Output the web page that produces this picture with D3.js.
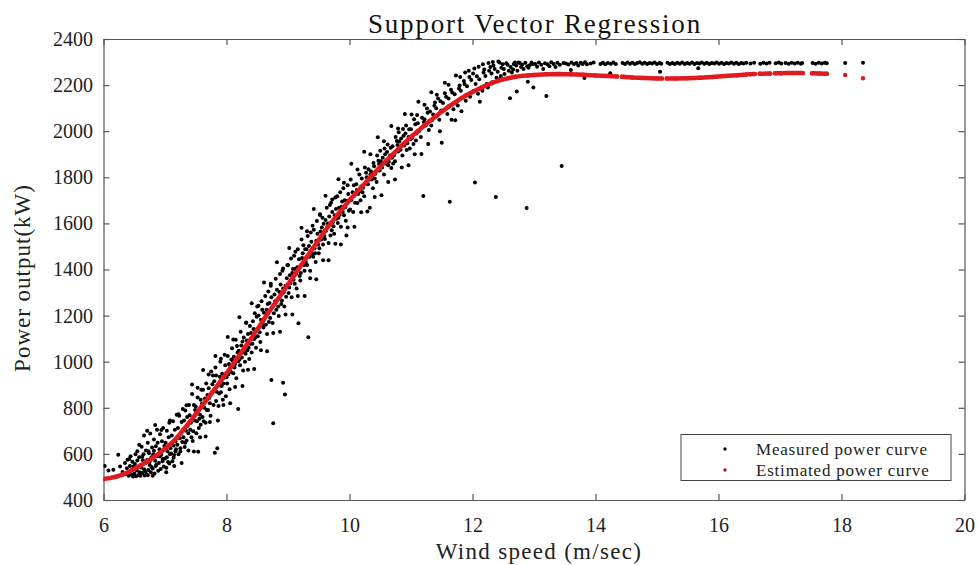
<!DOCTYPE html>
<html>
<head>
<meta charset="utf-8">
<script src="https://cdn.jsdelivr.net/npm/d3@7"></script>
<style>
  html, body { margin: 0; padding: 0; background: #fff; }
  svg { display: block; }
</style>
</head>
<body>
<svg id="chart" width="977" height="565"></svg>
<script>
// ---- Data -------------------------------------------------------------
const titleText = "Support Vector Regression";
const xLabelText = "Wind speed (m/sec)";
const yLabelText = "Power output(kW)";
const legendLabels = ["Measured power curve", "Estimated power curve"];

const xTicks = [6, 8, 10, 12, 14, 16, 18, 20];
const yTicks = [400, 600, 800, 1000, 1200, 1400, 1600, 1800, 2000, 2200, 2400];

// Measured power curve: [wind speed (m/s), power (kW)]
const measured = [
  [6.02,548],[6.08,528],[6.16,531],[6.24,596],[6.27,545],[6.31,522],[6.35,560],[6.36,512],[6.38,538],[6.39,575],
  [6.41,505],[6.42,520],[6.43,548],[6.44,590],[6.45,512],[6.46,531],[6.47,566],[6.48,502],[6.49,545],[6.42,578],
  [6.50,515],[6.51,556],[6.52,598],[6.53,503],[6.54,528],[6.55,571],[6.56,541],[6.57,508],[6.58,585],[6.59,520],[6.55,612],[6.52,535],
  [6.60,505],[6.61,549],[6.62,631],[6.63,517],[6.64,572],[6.65,598],[6.66,533],[6.67,506],[6.68,560],[6.69,615],[6.63,588],[6.66,680],[6.68,525],[6.61,541],
  [6.70,512],[6.71,574],[6.72,648],[6.73,530],[6.74,603],[6.75,552],[6.76,689],[6.77,520],[6.78,585],[6.79,628],[6.72,507],[6.75,566],[6.78,543],[6.73,611],
  [6.80,537],[6.81,598],[6.82,662],[6.83,515],[6.84,570],[6.85,633],[6.86,553],[6.87,705],[6.88,590],[6.89,527],[6.82,614],[6.85,548],[6.88,648],[6.84,725],
  [6.90,560],[6.91,620],[6.92,685],[6.93,534],[6.94,596],[6.95,655],[6.96,578],[6.97,712],[6.98,545],[6.99,634],[6.93,602],[6.96,568],[6.91,590],
  [7.00,580],[7.01,648],[7.02,540],[7.03,700],[7.04,612],[7.05,565],[7.06,672],[7.07,735],[7.08,598],[7.09,625],[7.03,585],[7.07,558],
  [7.10,602],[7.11,680],[7.12,568],[7.13,742],[7.14,636],[7.15,595],[7.16,705],[7.17,655],[7.18,620],[7.19,770],[7.14,583],[7.17,612],
  [7.20,640],[7.21,712],[7.22,598],[7.23,765],[7.24,668],[7.25,625],[7.26,690],[7.27,738],[7.28,652],[7.29,795],[7.25,610],
  [7.30,672],[7.31,745],[7.32,630],[7.33,788],[7.34,700],[7.35,658],[7.36,760],[7.37,722],[7.38,690],[7.39,812],[7.33,648],
  [7.41,705],[7.47,812],[7.43,672],[7.40,768],[7.48,745],[7.44,860],[7.46,698],[7.42,735],[7.49,790],[7.45,656],
  [7.52,742],[7.58,835],[7.50,806],[7.55,712],[7.54,609],[7.57,770],[7.51,690],[7.59,878],[7.53,845],[7.56,752],[7.58,726],
  [7.64,800],[7.61,760],[7.69,855],[7.62,878],[7.66,735],[7.60,818],[7.67,905],[7.63,742],[7.68,790],[7.65,840],
  [7.73,820],[7.78,940],[7.70,790],[7.76,868],[7.71,885],[7.79,812],[7.74,765],[7.77,902],[7.72,842],[7.75,958],
  [7.86,895],[7.81,605],[7.83,830],[7.89,935],[7.80,915],[7.85,624],[7.88,862],[7.82,975],[7.87,808],[7.84,870],[7.83,940],
  [7.95,905],[7.91,868],[7.98,985],[7.93,948],[7.99,850],[7.90,1000],[7.96,930],[7.92,895],[7.97,1030],[7.94,835],
  [8.03,945],[8.08,1010],[8.01,905],[8.06,978],[8.09,1058],[8.02,1025],[8.05,880],[8.07,955],[8.04,990],[8.00,932],
  [8.14,990],[8.11,950],[8.17,1068],[8.12,1022],[8.19,795],[8.16,928],[8.10,1005],[8.18,1040],[8.13,975],[8.15,1095],[8.19,1002],
  [8.25,1018],[8.22,985],[8.28,1105],[8.20,1048],[8.27,962],[8.23,1130],[8.29,1040],[8.24,1070],[8.21,1010],[8.26,1088],
  [8.36,1060],[8.31,1035],[8.38,1155],[8.33,1092],[8.30,1000],[8.35,1120],[8.39,1078],[8.32,1168],[8.37,1012],[8.34,1050],
  [8.47,1105],[8.42,1078],[8.49,1195],[8.44,1142],[8.41,1040],[8.46,1210],[8.40,1125],[8.48,1060],[8.43,1175],[8.45,1098],
  [8.53,1148],[8.58,1225],[8.51,1110],[8.56,1182],[8.50,1240],[8.55,1085],[8.59,1160],[8.52,1200],[8.57,1262],[8.54,1128],
  [8.62,1190],[8.67,1250],[8.60,1148],[8.65,1225],[8.69,1172],[8.63,1285],[8.66,1120],[8.61,1212],[8.68,1305],[8.64,1160],
  [8.74,1235],[8.71,1190],[8.73,921],[8.78,1292],[8.70,1255],[8.76,733],[8.77,1210],[8.72,1330],[8.79,1262],[8.75,1168],[8.73,1280],
  [8.83,1270],[8.88,1335],[8.81,1225],[8.86,1302],[8.80,1360],[8.85,1198],[8.89,1250],[8.82,1312],[8.87,1380],[8.84,1240],
  [8.92,909],[8.95,858],[8.93,1300],[8.98,1362],[8.90,1265],[8.96,1330],[8.91,1395],[8.97,1282],[8.94,1240],[8.99,1418],[8.92,1318],
  [9.04,1340],[9.01,1298],[9.08,1402],[9.03,1375],[9.06,1280],[9.00,1420],[9.09,1355],[9.05,1448],[9.02,1322],[9.07,1385],
  [9.13,1380],[9.18,1445],[9.11,1338],[9.17,1167],[9.15,1410],[9.10,1460],[9.19,1372],[9.14,1318],[9.16,1488],[9.12,1402],
  [9.26,1420],[9.21,1385],[9.28,1488],[9.23,1450],[9.20,1352],[9.25,1505],[9.29,1432],[9.22,1530],[9.27,1395],[9.24,1470],
  [9.35,1455],[9.31,1420],[9.33,1106],[9.38,1520],[9.30,1488],[9.36,1395],[9.32,1545],[9.39,1468],[9.34,1502],[9.37,1560],
  [9.43,1492],[9.48,1555],[9.41,1455],[9.46,1525],[9.40,1590],[9.45,1432],[9.49,1508],[9.42,1572],[9.47,1610],[9.44,1470],
  [9.54,1530],[9.51,1492],[9.58,1598],[9.53,1565],[9.50,1470],[9.56,1625],[9.59,1545],[9.52,1640],[9.57,1508],[9.55,1582],
  [9.62,1568],[9.67,1630],[9.60,1532],[9.65,1600],[9.69,1548],[9.63,1668],[9.66,1515],[9.61,1615],[9.68,1680],[9.64,1585],
  [9.73,1605],[9.78,1662],[9.71,1570],[9.76,1635],[9.70,1690],[9.75,1555],[9.79,1620],[9.72,1650],[9.77,1712],[9.74,1588],
  [9.84,1638],[9.81,1602],[9.88,1695],[9.83,1668],[9.86,1585],[9.80,1718],[9.89,1650],[9.85,1735],[9.82,1625],[9.87,1672],
  [9.93,1670],[9.98,1728],[9.91,1635],[9.95,1547],[9.96,1698],[9.90,1752],[9.99,1655],[9.94,1612],[9.97,1765],[9.92,1700],
  [10.03,1702],[10.07,1765],[10.01,1660],[10.05,1735],[10.09,1690],[10.02,1790],[10.06,1650],[10.08,1720],
  [10.14,1728],[10.11,1770],[10.18,1700],[10.12,1745],[10.16,1812],[10.19,1760],[10.13,1688],[10.17,1738],
  [10.22,1755],[10.27,1820],[10.24,1718],[10.20,1795],[10.29,1772],[10.25,1842],[10.21,1735],[10.28,1800],
  [10.33,1668],[10.36,1790],[10.31,1835],[10.38,1752],[10.34,1812],[10.30,1770],[10.39,1862],[10.35,1825],
  [10.42,1815],[10.47,1872],[10.44,1780],[10.40,1848],[10.49,1830],[10.45,1895],[10.41,1795],[10.48,1858],
  [10.53,1842],[10.58,1900],[10.51,1870],[10.56,1812],[10.50,1915],[10.59,1860],[10.54,1885],[10.57,1925],
  [10.64,1868],[10.61,1910],[10.68,1840],[10.66,1895],[10.62,1942],[10.69,1885],[10.63,1852],[10.67,1928],
  [10.72,1895],[10.77,1958],[10.74,1870],[10.70,1935],[10.79,1912],[10.75,1975],[10.71,1860],[10.78,1940],
  [10.83,1920],[10.88,1980],[10.81,1955],[10.86,1895],[10.80,1995],[10.89,1938],[10.84,1968],[10.87,2010],
  [10.94,1948],[10.91,1990],[10.98,1925],[10.96,1975],[10.92,2025],[10.99,1965],[10.93,1918],[10.97,2008],
  [11.02,1972],[11.07,2030],[11.04,1945],[11.00,2008],[11.09,1990],[11.05,2052],[11.08,1960],
  [11.13,2000],[11.18,2058],[11.11,2035],[11.17,1901],[11.16,1975],[11.10,2070],[11.19,2018],
  [11.20,1719],[11.24,2025],[11.27,2080],[11.22,2052],[11.29,2005],[11.26,2098],[11.21,2040],
  [11.34,2048],[11.31,2085],[11.38,2110],[11.33,2025],[11.36,2072],[11.39,2125],
  [11.43,2068],[11.48,2130],[11.41,2100],[11.46,2050],[11.49,2090],[11.44,2142],
  [11.50,1950],[11.53,2090],[11.57,2150],[11.52,2122],[11.59,2075],[11.55,2165],
  [11.63,1694],[11.62,2110],[11.67,2168],[11.61,2142],[11.69,2095],[11.65,2180],
  [11.72,2048],[11.74,2128],[11.78,2185],[11.71,2160],[11.76,2112],[11.79,2198],
  [11.82,2087],[11.84,2145],[11.87,2205],[11.81,2175],[11.89,2132],[11.86,2218],
  [11.93,2160],[11.98,2222],[11.91,2195],[11.96,2150],[11.95,2235],
  [12.04,1777],[12.02,2175],[12.07,2238],[12.05,2205],[12.09,2162],[12.01,2250],
  [12.12,2128],[12.14,2190],[12.18,2255],[12.11,2225],[12.16,2175],[12.19,2268],
  [12.23,2205],[12.27,2262],[12.21,2240],[12.25,2190],[12.29,2278],
  [12.38,1715],[12.32,2212],[12.36,2270],[12.31,2250],[12.34,2285],[12.39,2232],
  [12.42,2302],[12.44,2225],[12.47,2275],[12.41,2258],[12.49,2290],[12.46,2240],
  [12.52,2248],[12.57,2288],[12.51,2270],[12.55,2295],[12.59,2262],
  [12.61,2143],[12.64,2255],[12.67,2292],[12.62,2278],[12.69,2298],[12.66,2268],
  [12.72,2172],[12.73,2262],[12.77,2296],[12.71,2285],[12.79,2278],[12.75,2298],
  [12.88,1667],[12.83,2270],[12.86,2297],[12.81,2288],[12.89,2282],
  [12.90,2215],[12.99,2190],[12.93,2286],[12.96,2298],[12.91,2275],[12.98,2292],
  [13.02,2292],[13.05,2280],[13.08,2298],[13.12,2288],[13.15,2270],[13.18,2295],[13.20,2153],[13.22,2290],
  [13.25,2282],[13.28,2299],[13.32,2292],[13.35,2278],[13.38,2297],[13.42,2288],[13.45,1849],[13.48,2296],
  [13.52,2294],[13.56,2289],[13.60,2265],[13.61,2298],[13.65,2291],[13.69,2296],[13.72,2285],[13.76,2297],
  [13.79,2292],[13.82,2231],[13.83,2299],[13.86,2290],[13.92,2294],[13.97,2298],[14.08,2292],[14.12,2297],
  [14.16,2290],[14.20,2296],[14.24,2251],[14.25,2293],[14.29,2298],[14.33,2291],[14.44,2296],[14.48,2292],
  [14.52,2298],[14.56,2293],[14.60,2297],[14.64,2291],[14.68,2296],[14.72,2299],[14.76,2293],[14.80,2297],
  [14.84,2292],[14.88,2296],[14.92,2294],[14.96,2298],[15.00,2292],[15.04,2296],[15.05,2258],[15.07,2293],
  [15.17,2297],[15.21,2292],[15.25,2296],[15.29,2291],[15.33,2297],[15.37,2293],[15.41,2298],[15.45,2292],
  [15.49,2296],[15.53,2293],[15.57,2298],[15.61,2292],[15.65,2296],[15.67,2273],[15.69,2294],[15.73,2298],
  [15.77,2293],[15.81,2297],[15.85,2292],[15.89,2296],[15.93,2294],[15.97,2298],[16.01,2293],[16.05,2297],
  [16.09,2292],[16.13,2296],[16.17,2294],[16.21,2298],[16.25,2293],[16.29,2297],[16.33,2292],[16.37,2296],
  [16.41,2294],[16.45,2297],[16.52,2294],[16.58,2297],[16.68,2293],[16.73,2297],[16.78,2294],[16.83,2297],
  [16.93,2295],[16.98,2298],[17.02,2294],[17.09,2296],[17.14,2293],[17.19,2297],[17.24,2294],[17.29,2297],
  [17.34,2293],[17.36,2296],[17.53,2296],[17.58,2293],[17.63,2297],[17.68,2294],[17.73,2297],[17.76,2295],
  [18.06,2296],[18.35,2297],
  // upper edge of the scatter band
  [6.58,640],[6.71,700],[6.94,704],[7.08,745],[7.22,772],[7.35,811],[7.44,901],[7.53,887],[7.62,964],[7.71,945],
  [7.82,1025],[7.91,1013],[8.02,1107],[8.11,1096],[8.21,1193],[8.32,1170],[8.41,1254],[8.52,1243],[8.61,1344],[8.72,1338],
  [8.82,1431],[8.92,1404],[9.02,1493],[9.12,1477],[9.22,1581],[9.31,1566],[9.42,1663],[9.52,1636],[9.61,1720],[9.72,1704],
  [9.82,1792],[9.91,1776],[10.03,1859],[10.13,1834],[10.24,1911],[10.34,1900],[10.46,1974],[10.56,1956],[10.68,2023],[10.79,2012],
  [10.90,2075],[11.01,2072],[11.12,2128],[11.22,2115],[11.33,2169],[11.42,2158],[11.55,2210],[11.61,2201],[11.73,2242],[11.80,2235],
  [11.88,2255],[11.94,2262],[12.03,2272],[12.10,2280],[12.17,2290],[12.26,2296],[12.33,2300],[12.44,2298],
  // lower edge of the scatter band
  [6.80,505],[7.02,520],[7.15,548],[7.27,560],[7.38,615],[7.47,610],[7.57,672],[7.66,675],[7.73,738],[7.86,745],
  [7.95,812],[8.06,820],[8.14,890],[8.26,895],[8.35,965],[8.45,968],[8.56,1050],[8.66,1045],[8.76,1125],[8.87,1130],
  [8.96,1205],[9.07,1205],[9.16,1285],[9.27,1285],[9.36,1362],[9.46,1358],[9.57,1440],[9.66,1440],[9.77,1512],[9.86,1508],
  [9.97,1582],[10.08,1585],[10.19,1648],[10.29,1652],[10.41,1715],[10.52,1722],[10.63,1780],[10.74,1790],[10.85,1842],[10.96,1852],
  [11.06,1900],[11.28,1945],[11.47,2000],[11.66,2050]
];

// Estimated power curve (SVR output), listed as continuous runs of [wind, power]
const estimatedRuns = [
  [[6.0,491],[6.1,495],[6.2,501],[6.3,509],[6.4,520],[6.5,535],[6.6,550],[6.7,565],[6.8,582],[6.9,601],
   [7.0,622],[7.1,645],[7.2,672],[7.3,705],[7.4,738],[7.5,772],[7.6,807],[7.7,842],[7.8,878],[7.9,914],
   [8.0,950],[8.1,987],[8.2,1024],[8.3,1062],[8.4,1100],[8.5,1140],[8.6,1180],[8.7,1220],[8.8,1258],[8.9,1296],
   [9.0,1335],[9.1,1374],[9.2,1413],[9.3,1452],[9.4,1491],[9.5,1528],[9.6,1567],[9.7,1602],[9.8,1636],[9.9,1668],
   [10.0,1700],[10.1,1730],[10.2,1759],[10.3,1788],[10.4,1817],[10.5,1845],[10.6,1872],[10.7,1898],[10.8,1925],[10.9,1950],
   [11.0,1975],[11.1,1998],[11.2,2021],[11.3,2043],[11.4,2064],[11.5,2085],[11.6,2104],[11.7,2122],[11.8,2140],[11.9,2156],
   [12.0,2170],[12.1,2183],[12.2,2196],[12.3,2207],[12.4,2217],[12.5,2225],[12.6,2231],[12.7,2236],[12.8,2240],[12.9,2242],
   [13.0,2244],[13.2,2247],[13.4,2248],[13.6,2247],[13.8,2245],[14.0,2242],[14.2,2239],[14.35,2237]],
  [[14.43,2236],[14.6,2233],[14.8,2231],[15.0,2229],[15.08,2229]],
  [[15.16,2229],[15.3,2229],[15.5,2230],[15.7,2232],[15.9,2235],[16.1,2239],[16.3,2243],[16.46,2246]],
  [[16.51,2247],[16.59,2248]],
  [[16.67,2249],[16.84,2250]],
  [[16.92,2251],[17.03,2251]],
  [[17.08,2252],[17.2,2252],[17.37,2252]],
  [[17.52,2251],[17.64,2250],[17.76,2249]],
  [[18.06,2244]],
  [[18.35,2230]]
];

// ---- Layout & scales -----------------------------------------------------
const W = 977, H = 565;
const plot = { left: 103.5, right: 964.5, top: 39, bottom: 500 };
const FONT = "'Liberation Serif', 'Times New Roman', serif";
const AXIS_COLOR = "#555";
const RED = "#e01a1f";

const svg = d3.select("#chart");
svg.append("rect").attr("width", W).attr("height", H).attr("fill", "#fff");

const x = d3.scaleLinear().domain([6, 20]).range([plot.left, plot.right]);
const y = d3.scaleLinear().domain([400, 2400]).range([plot.bottom, plot.top]);

svg.append("defs").append("clipPath").attr("id", "plot-clip")
  .append("rect")
  .attr("x", plot.left).attr("y", plot.top)
  .attr("width", plot.right - plot.left).attr("height", plot.bottom - plot.top);

// ---- Axes (box with inward ticks) ---------------------------------------
function styleAxis(g) {
  g.attr("font-family", FONT);
  g.select(".domain").attr("stroke", AXIS_COLOR).attr("stroke-width", 1.2);
  g.selectAll(".tick line").attr("stroke", AXIS_COLOR).attr("stroke-width", 1.2);
  g.selectAll(".tick text").attr("fill", "#222").attr("font-size", 20);
}

svg.append("g")
  .attr("transform", `translate(0,${plot.bottom})`)
  .call(d3.axisBottom(x).tickValues(xTicks).tickFormat(d3.format("d"))
    .tickSize(-6).tickSizeOuter(0).tickPadding(18))
  .call(styleAxis);

svg.append("g")
  .attr("transform", `translate(0,${plot.top})`)
  .call(d3.axisTop(x).tickValues(xTicks).tickFormat("")
    .tickSize(-6).tickSizeOuter(0))
  .call(styleAxis);

svg.append("g")
  .attr("transform", `translate(${plot.left},0)`)
  .call(d3.axisLeft(y).tickValues(yTicks).tickFormat(d3.format("d"))
    .tickSize(-6).tickSizeOuter(0).tickPadding(10.5))
  .call(styleAxis);

svg.append("g")
  .attr("transform", `translate(${plot.right},0)`)
  .call(d3.axisRight(y).tickValues(yTicks).tickFormat("")
    .tickSize(-6).tickSizeOuter(0))
  .call(styleAxis);

// ---- Marks --------------------------------------------------------------
const marks = svg.append("g").attr("clip-path", "url(#plot-clip)");

marks.append("g")
  .selectAll("circle")
  .data(measured)
  .join("circle")
  .attr("cx", d => x(d[0]))
  .attr("cy", d => y(d[1]))
  .attr("r", 2.0)
  .attr("fill", "#000");

const estLine = d3.line().x(d => x(d[0])).y(d => y(d[1]));
const est = marks.append("g");
est.selectAll("path")
  .data(estimatedRuns.filter(r => r.length > 1))
  .join("path")
  .attr("d", estLine)
  .attr("fill", "none")
  .attr("stroke", RED)
  .attr("stroke-width", 4.5)
  .attr("stroke-linecap", "round")
  .attr("stroke-linejoin", "round");
est.selectAll("circle")
  .data(estimatedRuns.flat())
  .join("circle")
  .attr("cx", d => x(d[0]))
  .attr("cy", d => y(d[1]))
  .attr("r", 2.2)
  .attr("fill", RED);

// ---- Text ---------------------------------------------------------------
svg.append("text")
  .attr("x", 535).attr("y", 33)
  .attr("text-anchor", "middle")
  .attr("font-family", FONT).attr("font-size", 27)
  .attr("letter-spacing", 1.8)
  .attr("fill", "#111")
  .text(titleText);

svg.append("text")
  .attr("x", 539).attr("y", 559)
  .attr("text-anchor", "middle")
  .attr("font-family", FONT).attr("font-size", 23)
  .attr("letter-spacing", 1.3)
  .attr("fill", "#222")
  .text(xLabelText);

svg.append("text")
  .attr("transform", "translate(30,278) rotate(-90)")
  .attr("text-anchor", "middle")
  .attr("font-family", FONT).attr("font-size", 23)
  .attr("letter-spacing", 1)
  .attr("fill", "#222")
  .text(yLabelText);

// ---- Legend -------------------------------------------------------------
const legend = svg.append("g");
legend.append("rect")
  .attr("x", 681).attr("y", 434.5)
  .attr("width", 270).attr("height", 46)
  .attr("fill", "#fff").attr("stroke", "#444").attr("stroke-width", 1);

const legendColors = ["#000", "#b0141a"];
const rows = legend.selectAll("g.row")
  .data(legendLabels)
  .join("g")
  .attr("class", "row")
  .attr("transform", (d, i) => `translate(0,${449 + i * 21})`);
rows.append("circle")
  .attr("cx", 725).attr("cy", 0).attr("r", 1.7)
  .attr("fill", (d, i) => legendColors[i]);
rows.append("text")
  .attr("x", 756).attr("y", 6)
  .attr("font-family", FONT).attr("font-size", 17)
  .attr("letter-spacing", 0.8)
  .attr("fill", "#222")
  .text(d => d);
</script>
</body>
</html>
